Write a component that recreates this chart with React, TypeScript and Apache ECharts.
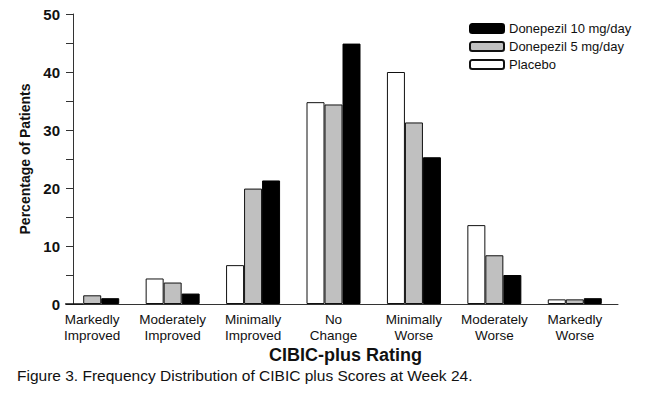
import React, { useEffect, useRef } from "react";
import * as echarts from "echarts";

const categories = [
  "Markedly\nImproved",
  "Moderately\nImproved",
  "Minimally\nImproved",
  "No\nChange",
  "Minimally\nWorse",
  "Moderately\nWorse",
  "Markedly\nWorse",
];
const placebo = [0, 4.4, 6.7, 34.8, 40.0, 13.6, 0.8];
const donepezil5 = [1.5, 3.7, 19.9, 34.4, 31.3, 8.4, 0.8];
const donepezil10 = [1.0, 1.8, 21.3, 44.9, 25.3, 5.0, 1.0];
const legendNames = ["Donepezil 10 mg/day", "Donepezil 5 mg/day", "Placebo"];
const yTicks = [0, 10, 20, 30, 40, 50];
const caption = "Figure 3. Frequency Distribution of CIBIC plus Scores at Week 24.";
const xTitle = "CIBIC-plus Rating";
const yTitle = "Percentage of Patients";

const FONT = "'Liberation Sans', Arial, sans-serif";

export default function App() {
  const ref = useRef<HTMLDivElement>(null);
  useEffect(() => {
    if (!ref.current) return;
    const chart = echarts.init(ref.current, null, { renderer: "svg" });
    const barBase = {
      type: "bar" as const,
      xAxisIndex: 0,
      yAxisIndex: 0,
      barWidth: 18,
      barGap: "0%",
    };
    chart.setOption({
      animation: false,
      backgroundColor: "#ffffff",
      textStyle: { fontFamily: FONT },
      title: {
        text: caption,
        left: 12,
        top: 362,
        textStyle: { fontSize: 15.5, fontWeight: "normal", color: "#111", fontFamily: FONT },
      },
      legend: {
        data: legendNames,
        orient: "vertical",
        left: 464,
        top: 17,
        itemWidth: 34,
        itemHeight: 9,
        itemGap: 5,
        selectedMode: false,
        textStyle: { fontSize: 13, color: "#111", fontFamily: FONT },
      },
      grid: [
        { left: 52, top: 14, width: 563, height: 290 },
        { left: 73, top: 14, width: 545, height: 290 },
      ],
      xAxis: [
        {
          gridIndex: 0,
          type: "category",
          data: categories,
          axisLine: { show: false },
          axisTick: { show: false },
          axisLabel: {
            interval: 0,
            fontSize: 13.5,
            lineHeight: 16,
            margin: 7,
            color: "#111",
            fontFamily: FONT,
          },
        },
        {
          gridIndex: 1,
          type: "value",
          min: 0,
          max: 1,
          axisLine: { show: true, lineStyle: { color: "#333", width: 1 } },
          axisTick: { show: false },
          axisLabel: { show: false },
          splitLine: { show: false },
          name: xTitle,
          nameLocation: "middle",
          nameGap: 42,
          nameTextStyle: { fontSize: 18, fontWeight: "bold", color: "#111", fontFamily: FONT },
        },
      ],
      yAxis: [
        { gridIndex: 0, type: "value", min: 0, max: 50, show: false },
        {
          gridIndex: 1,
          type: "value",
          min: 0,
          max: 50,
          interval: 5,
          axisLine: { show: true, lineStyle: { color: "#333", width: 1 } },
          axisTick: { show: true, length: 7, lineStyle: { color: "#333" } },
          axisLabel: {
            formatter: (v: number) => (yTicks.includes(v) ? String(v) : ""),
            fontSize: 15,
            fontWeight: "bold",
            color: "#111",
            margin: 13,
            fontFamily: FONT,
          },
          splitLine: { show: false },
          name: yTitle,
          nameLocation: "middle",
          nameGap: 41,
          nameRotate: 90,
          nameTextStyle: { fontSize: 14, fontWeight: "bold", color: "#111", fontFamily: FONT },
        },
      ],
      series: [
        {
          ...barBase,
          name: "Placebo",
          data: placebo,
          itemStyle: { color: "#ffffff", borderColor: "#111", borderWidth: 1 },
        },
        {
          ...barBase,
          name: "Donepezil 5 mg/day",
          data: donepezil5,
          itemStyle: { color: "#c0c0c0", borderColor: "#111", borderWidth: 1 },
        },
        {
          ...barBase,
          name: "Donepezil 10 mg/day",
          data: donepezil10,
          itemStyle: { color: "#000000", borderColor: "#000", borderWidth: 1 },
        },
      ],
    });
    return () => chart.dispose();
  }, []);
  return <div ref={ref} style={{ width: 664, height: 407, position: "absolute", left: 0, top: 0 }} />;
}
